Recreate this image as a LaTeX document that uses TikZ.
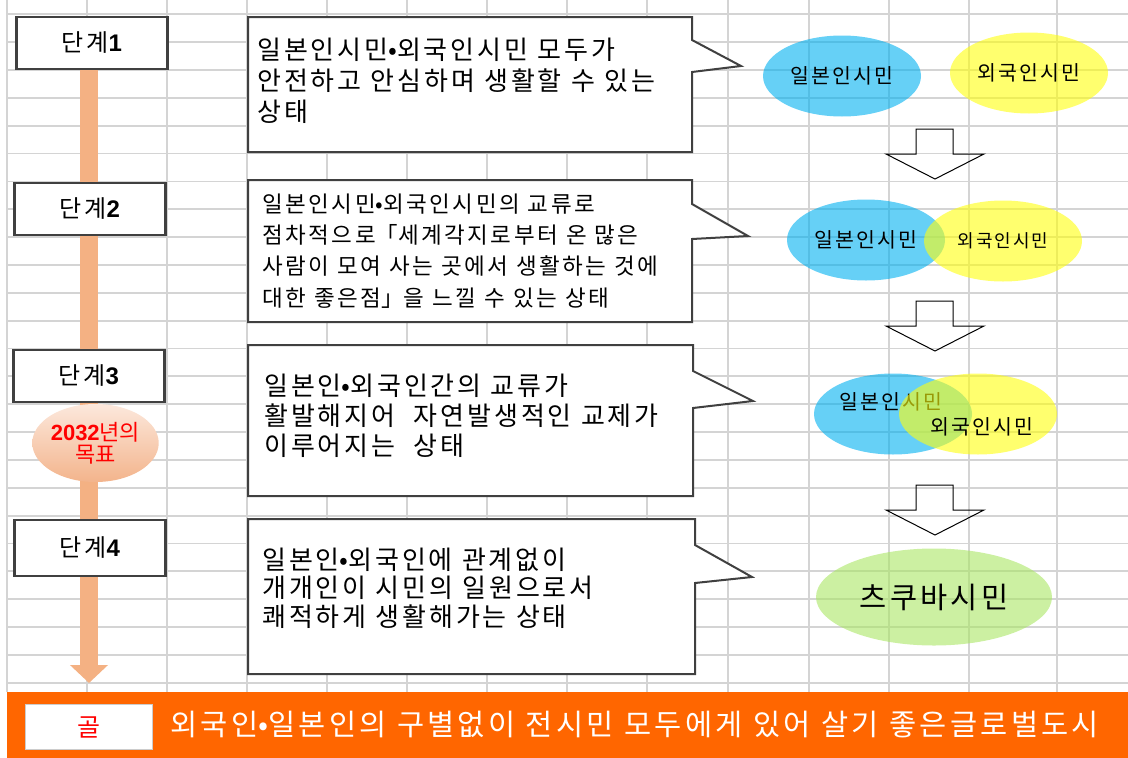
\documentclass[tikz,border=0pt]{standalone}
\usepackage{fontspec}
\setmainfont{Noto Sans CJK KR}[WordSpace=1.6]
\newfontfamily\latinfont{Liberation Sans}
\usetikzlibrary{arrows.meta,shapes.geometric,backgrounds}

% a little air between Hangul syllables
\XeTeXinterchartokenstate=1
\newXeTeXintercharclass\hangulclass
\newcount\hcode
\hcode="AC00
\loop
  \XeTeXcharclass\hcode=\hangulclass
  \advance\hcode by 1
\ifnum\hcode<"D7A4 \repeat
\XeTeXinterchartoks\hangulclass\hangulclass={\kern0.11em}
\newcommand{\nokern}{\XeTeXinterchartokenstate=0\relax}

\definecolor{gridgray}{RGB}{212,212,212}
\definecolor{edgegray}{RGB}{64,64,64}
\definecolor{barorange}{RGB}{244,177,131}
\definecolor{goalorange}{RGB}{255,102,0}
\definecolor{peachlight}{RGB}{252,232,220}
\definecolor{peachdark}{RGB}{243,180,140}
\definecolor{japanblue}{RGB}{0,176,240}
\definecolor{foreignyellow}{RGB}{255,255,13}
\definecolor{citygreen}{RGB}{170,230,100}

\newcommand{\txtsize}[2]{\fontsize{#1}{#2}\selectfont}

\begin{document}
\begin{tikzpicture}[
        x = 1pt, y = -1pt,
        semithick % line style
    ]
    \tikzstyle{stage box}=[
        draw = edgegray,
        line width = 2.4pt,
        fill = white,
        minimum width = 151pt,
        minimum height = 52pt,
        inner sep = 0pt,
        font = \txtsize{24}{24}
    ]

    \tikzstyle{note text}=[
        anchor = west,
        align = left,
        inner sep = 0pt,
        font = \txtsize{26}{31}
    ]

    \tikzstyle{callout}=[draw = edgegray, line width = 2pt, fill = white]
    \tikzstyle{hollow arrow}=[draw = black, line width = 1pt]

    \tikzstyle{citizen}=[
        ellipse,
        minimum width = 158pt,
        minimum height = 81pt,
        inner sep = 0pt,
        fill opacity = 0.6,
        text opacity = 1,
        font = \txtsize{20.5}{20.5}
    ]

    \useasboundingbox (0,0) rectangle (1128,758);

    % stages on the left
	\node[stage box] (st1) at (92,43)   {단계{\latinfont\bfseries 1}};
	\node[stage box] (st2) at (90,209)  {단계{\latinfont\bfseries 2}};
	\node[stage box] (st3) at (89,376)  {단계{\latinfont\bfseries 3}};
	\node[stage box, minimum height = 56pt] (st4) at (90,548) {단계{\latinfont\bfseries 4}};
	\coordinate (goal top) at (89,683);

    \begin{scope}[on background layer]
        \foreach \gx in {7,87,167,247,327,407,487,567,647,728,809,889,969,1057}
            \draw[gridgray, line width = 1.8pt] (\gx,0) -- (\gx,692);
        \foreach \k in {0,...,24}
            \draw[gridgray, line width = 1.8pt] (7,14.3+27.85*\k) -- (1128,14.3+27.85*\k);
        \draw[barorange, line width = 18pt, -{Triangle[width = 37pt, length = 18pt]}]
            (st1.south -| goal top) -- (goal top);
    \end{scope}

	\node[ellipse, minimum width = 101pt, minimum height = 78pt, inner sep = 0pt,
	      top color = peachlight, bottom color = peachdark, text = red,
	      align = center, font = \txtsize{22}{22}\nokern]
	      (ms) at (95.5,443) {{\latinfont\bfseries 2032}년의\\목표};

    % speech boxes
	\draw[callout] (248,17) -- (692,17) -- (692,40) -- (741,66) -- (692,72) -- (692,152) -- (248,152) -- cycle;
	\draw[callout] (248,180) -- (692,180) -- (692,204) -- (748,236) -- (692,239) -- (692,322) -- (248,322) -- cycle;
	\draw[callout] (248,345) -- (693,345) -- (693,371) -- (753,401) -- (693,408) -- (693,496) -- (248,496) -- cycle;
	\draw[callout] (248,519) -- (695,519) -- (695,545) -- (752,577) -- (695,583) -- (695,674) -- (248,674) -- cycle;

	\node[note text] (t1) at (257,81)
	    {일본인시민•외국인시민 모두가\\안전하고 안심하며 생활할 수 있는\\상태};
	\node[note text, font = \txtsize{22.5}{31.3}] (t2) at (262,251)
	    {일본인시민•외국인시민의 교류로\\점차적으로「세계각지로부터 온 많은\\사람이 모여 사는 곳에서 생활하는 것에\\대한 좋은점」을 느낄 수 있는 상태};
	\node[note text, font = \txtsize{26}{30}] (t3) at (264,416)
	    {일본인•외국인간의 교류가\\활발해지어~ 자연발생적인 교제가\\이루어지는~ 상태};
	\node[note text, font = \txtsize{26}{28.5}] (t4) at (262,588)
	    {일본인•외국인에 관계없이\\개개인이 시민의 일원으로서\\쾌적하게 생활해가는 상태};

    % citizens on the right
	\node[citizen, fill = japanblue]     (j1) at (842,76)  {일본인시민};
	\node[citizen, fill = foreignyellow] (f1) at (1029,73) {외국인시민};
	\node[citizen, fill = japanblue]     (j2) at (866,240) {일본인시민};
	\node[citizen, fill = foreignyellow, font = \txtsize{18}{18}] (f2) at (1003,241) {외국인시민};
	\node[citizen, fill = japanblue]     (j3) at (893,414) {};
	\node[font = \txtsize{20.5}{20.5}, inner sep = 0pt] (j3 name) at (891,402) {일본인시민};
	\node[citizen, fill = foreignyellow] (f3) at (978,414) {};
	\node[font = \txtsize{20.5}{20.5}, inner sep = 0pt] (f3 name) at (982,427) {외국인시민};
	\node[citizen, fill = citygreen, minimum width = 236pt, minimum height = 97pt,
	      font = \txtsize{29.5}{29.5}] (tk) at (934,597) {츠쿠바시민};

	\draw[hollow arrow] (916,129) -- (953,129) -- (953,154) -- (984,154) -- (935,179) -- (886,154) -- (916,154) -- cycle;
	\draw[hollow arrow] (916,301) -- (953,301) -- (953,326) -- (984,326) -- (935,351) -- (886,326) -- (916,326) -- cycle;
	\draw[hollow arrow] (916,485) -- (953,485) -- (953,510) -- (984,510) -- (935,535) -- (886,510) -- (916,510) -- cycle;

    % goal
	\fill[goalorange] (7,692) rectangle (1128,758);
	\node[draw = gray!40, line width = 1.5pt, fill = white, text = red,
	      minimum width = 127pt, minimum height = 45pt, inner sep = 0pt,
	      font = \txtsize{25}{25}] (goal) at (89,727) {골};
	\node[anchor = west, inner sep = 0pt, text = white, font = \txtsize{29.5}{29.5}]
	    (goal text) at (170,725) {외국인•일본인의 구별없이 전시민 모두에게 있어 살기 좋은글로벌도시};

	\end{tikzpicture}
\end{document}
